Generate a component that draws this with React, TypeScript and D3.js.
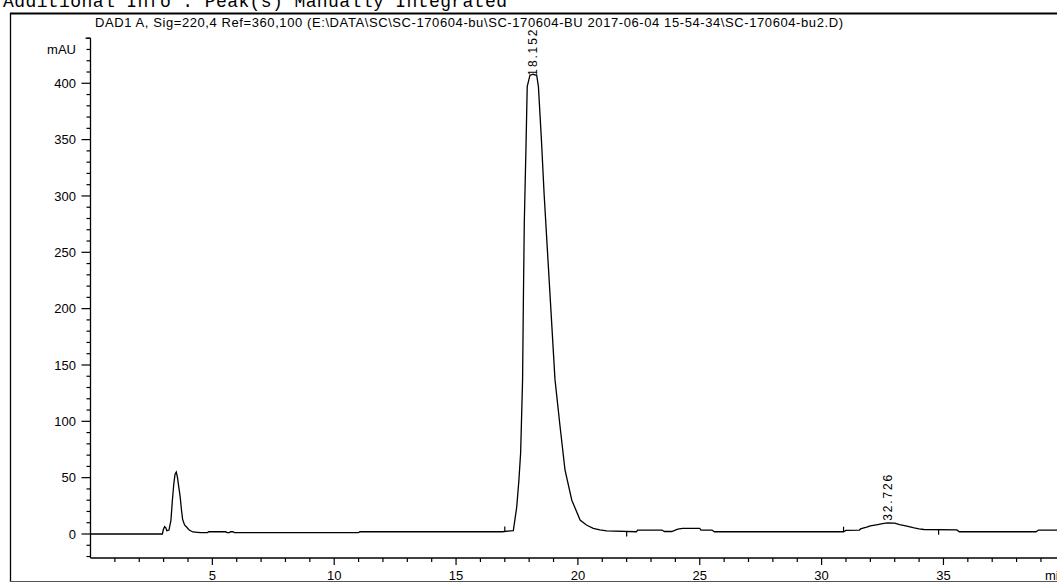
import React from 'react';
import * as d3 from 'd3';

// chromatogram trace (min, mAU)
const times = [
  0, 2.95, 2.99, 3.04, 3.09, 3.13, 3.22, 3.3, 3.36, 3.42, 3.47, 3.52, 3.57, 3.62, 3.68, 3.73, 3.78,
  3.86, 3.95, 4.05, 4.2, 4.5, 4.8, 4.85, 5.55, 5.6, 5.7, 5.75, 5.85, 5.9, 11.0, 11.05, 16.9, 17.35,
  17.49, 17.58, 17.65, 17.73, 17.76, 17.8, 17.87, 17.92, 18.03, 18.16, 18.31, 18.38, 18.51, 18.61,
  18.74, 18.9, 19.06, 19.27, 19.47, 19.75, 20.09, 20.35, 20.63, 20.9, 21.18, 22.4, 22.45, 23.45,
  23.55, 23.85, 24.1, 24.3, 25.0, 25.05, 25.5, 25.6, 30.9, 31.0, 31.55, 31.6, 31.7, 31.85, 32.0,
  32.3, 32.5, 32.7, 33.0, 33.2, 33.5, 33.8, 34.0, 34.2, 35.55, 35.65, 38.8, 38.9, 39.7,
];
const signal = [
  0, 0, 4, 6.5, 5.5, 3, 3.5, 12, 30, 45, 53, 55, 50, 42, 33, 22, 13,
  8, 6, 3.5, 1.8, 1.2, 1.3, 2.0, 2.0, 1.2, 1.2, 2.0, 2.0, 1.15, 1.15, 2.0, 2.0, 3,
  24, 48, 72, 137, 202, 276, 344, 397, 407, 408, 407, 397, 347, 303,
  255, 196, 137, 95, 57, 30, 12.4, 8, 5, 3.6, 2.8, 2.0, 3.5, 3.5,
  2.2, 2.2, 4.3, 5.0, 5.0, 3.5, 3.5, 2.0, 2.0, 3.2, 3.5, 4.5, 5.3, 6.2, 7.3,
  8.4, 9.2, 9.8, 9.6, 8.4, 6.9, 5.4, 4.6, 4.0, 3.6, 2.0, 2.0, 3.5, 3.5,
];

const yTicks = [0, 50, 100, 150, 200, 250, 300, 350, 400];
const xTicks = [5, 10, 15, 20, 25, 30, 35];

const peakTimes = [18.152, 32.726];
const peakLabels = ['18.152', '32.726'];
const peakHeights = [405, 10];

// baseline event marks
const eventTimes = [17.0, 22.0, 30.9, 34.8];
const eventDirs = [1, -1, 1, -1];

const infoLine = 'Additional Info : Peak(s) Manually Integrated';
const signalTitle =
  'DAD1 A, Sig=220,4 Ref=360,100 (E:\\DATA\\SC\\SC-170604-bu\\SC-170604-BU 2017-06-04 15-54-34\\SC-170604-bu2.D)';

const W = 1057;
const H = 583;
const FONT = '"Liberation Sans", Arial, sans-serif';

export default function App() {
  const x = d3.scaleLinear().domain([0, 39.7]).range([90.5, 1058]);
  const y = d3.scaleLinear().domain([-21.3, 440]).range([558, 38.2]);

  const pts: [number, number][] = times.map((t, i) => [t, signal[i]]);
  const line = d3
    .line<[number, number]>()
    .x((d) => x(d[0]))
    .y((d) => y(d[1]))
    .curve(d3.curveLinear);

  const valueAt = (t: number) => {
    const i = d3.bisectLeft(times, t);
    if (i <= 0) return signal[0];
    if (i >= times.length) return signal[signal.length - 1];
    const t0 = times[i - 1], t1 = times[i];
    const f = (t - t0) / (t1 - t0);
    return signal[i - 1] + f * (signal[i] - signal[i - 1]);
  };

  const yMinor = d3.range(-20, 441, 10).filter((v) => v % 50 !== 0);
  const xMinor = d3.range(1, 40, 1).filter((v) => v % 5 !== 0);
  const axisX = x(0);
  const axisY = y(-21.3);

  return (
    <svg
      width={W}
      height={H}
      style={{ position: 'absolute', left: 0, top: 0, background: '#fff' }}
    >
      <rect x={0} y={0} width={W} height={H} fill="#fff" />
      <text
        x={3}
        y={7}
        fontFamily='"Liberation Mono", "Courier New", monospace'
        fontSize={18}
        textLength={504}
        lengthAdjust="spacing"
        fill="#000"
      >
        {infoLine}
      </text>

      {/* frame */}
      <line x1={10} x2={W} y1={13.5} y2={13.5} stroke="#000" strokeWidth={2} />
      <line x1={10.5} x2={10.5} y1={13} y2={582} stroke="#000" strokeWidth={1.3} />
      <line x1={10} x2={W} y1={581.5} y2={581.5} stroke="#555" strokeWidth={1} />

      <text
        x={95}
        y={26.5}
        fontFamily={FONT}
        fontSize={13}
        textLength={748}
        lengthAdjust="spacing"
        fill="#000"
      >
        {signalTitle}
      </text>

      {/* y axis */}
      <line x1={axisX} x2={axisX} y1={y(440)} y2={axisY} stroke="#000" strokeWidth={1.3} />
      {yMinor.map((v) => (
        <line key={'ym' + v} x1={axisX - 4} x2={axisX} y1={y(v)} y2={y(v)} stroke="#000" strokeWidth={1.2} />
      ))}
      <line x1={axisX - 5} x2={axisX} y1={y(440)} y2={y(440)} stroke="#000" strokeWidth={1.2} />
      {yTicks.map((v) => (
        <g key={'y' + v}>
          <line x1={axisX - 9} x2={axisX} y1={y(v)} y2={y(v)} stroke="#000" strokeWidth={1.2} />
          <text
            x={76}
            y={y(v)}
            dy="0.36em"
            textAnchor="end"
            fontFamily={FONT}
            fontSize={13}
            fill="#000"
          >
            {v}
          </text>
        </g>
      ))}
      <text x={76} y={y(430)} dy="0.36em" textAnchor="end" fontFamily={FONT} fontSize={13} fill="#000">
        mAU
      </text>

      {/* x axis */}
      <line x1={axisX} x2={W} y1={axisY} y2={axisY} stroke="#000" strokeWidth={1.3} />
      {xMinor.map((v) => (
        <line key={'xm' + v} x1={x(v)} x2={x(v)} y1={axisY} y2={axisY + 4} stroke="#000" strokeWidth={1.2} />
      ))}
      {xTicks.map((v) => (
        <g key={'x' + v}>
          <line x1={x(v)} x2={x(v)} y1={axisY} y2={axisY + 7} stroke="#000" strokeWidth={1.2} />
          <text
            x={x(v)}
            y={575}
            dy="0.36em"
            textAnchor="middle"
            fontFamily={FONT}
            fontSize={13}
            fill="#000"
          >
            {v}
          </text>
        </g>
      ))}
      <text x={1045} y={575} dy="0.36em" fontFamily={FONT} fontSize={13} fill="#000">
        min
      </text>

      {/* trace */}
      <path d={line(pts) ?? ''} fill="none" stroke="#000" strokeWidth={1.3} strokeLinejoin="miter" />

      {eventTimes.map((t, i) => {
        const yy = y(valueAt(t));
        return (
          <line
            key={'ev' + i}
            x1={x(t)}
            x2={x(t)}
            y1={yy}
            y2={yy - eventDirs[i] * 5}
            stroke="#000"
            strokeWidth={1.2}
          />
        );
      })}

      {/* peak labels */}
      {peakTimes.map((t, i) => {
        const px = x(t);
        const py = y(peakHeights[i]) - 2;
        return (
          <text
            key={'pk' + i}
            transform={`translate(${px},${py}) rotate(-90)`}
            dy="0.36em"
            fontFamily={FONT}
            fontSize={12}
            textLength={46}
            lengthAdjust="spacing"
            fill="#000"
          >
            {peakLabels[i]}
          </text>
        );
      })}
    </svg>
  );
}
